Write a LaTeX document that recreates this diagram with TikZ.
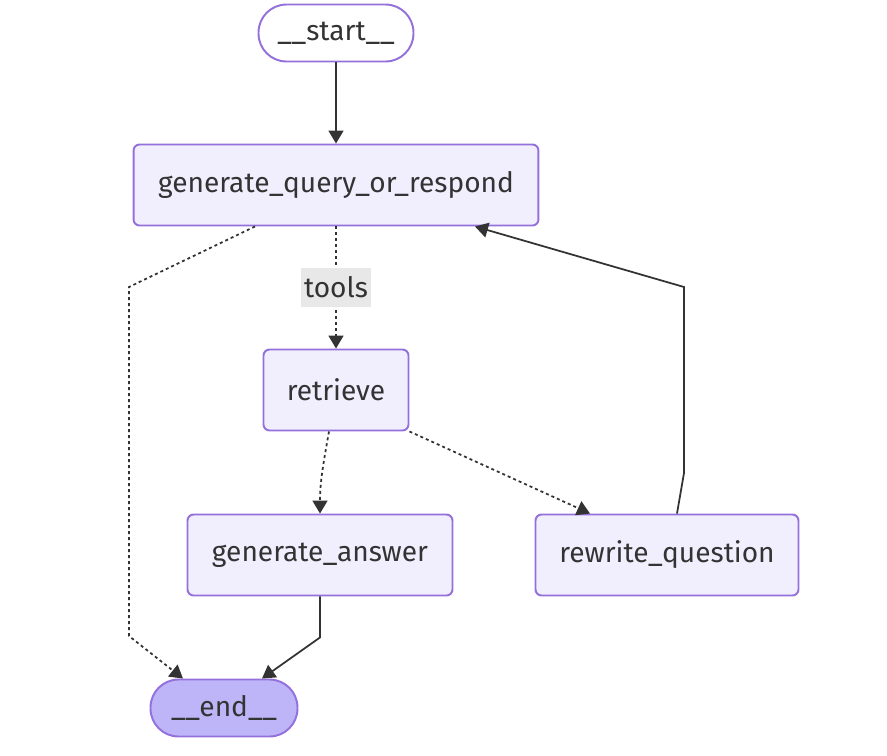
\documentclass[tikz,border=0pt]{standalone}
\usepackage{fontspec}
\setmainfont{Fira Sans}
\usetikzlibrary{arrows.meta}
\definecolor{lilac}{HTML}{9370DB}
\definecolor{paleviolet}{HTML}{F1EFFE}
\definecolor{endviolet}{HTML}{BDB5F8}
\definecolor{ink}{HTML}{333333}
\definecolor{tagbg}{HTML}{E8E8E8}
\tikzset{
  box/.style={draw=lilac,fill=paleviolet,line width=1.1pt,rounded corners=3.4pt,
    minimum height=1.62cm,inner sep=0pt,text=ink,font=\fontsize{16}{19}\selectfont},
  pill/.style={box,rounded corners=0.56cm,minimum height=1.14cm},
  flow/.style={ink,line width=1pt,-{Triangle[length=0.26cm,width=0.3cm]}},
  maybe/.style={flow,dash pattern=on 0.06cm off 0.06cm},
  tag/.style={fill=tagbg,inner xsep=1.5pt,inner ysep=5pt,text=ink,font=\fontsize{16}{19}\selectfont}
}
\begin{document}
\begin{tikzpicture}[x=0.02cm,y=-0.02cm]
\useasboundingbox (0,0) rectangle (887,755);
\node[pill,fill=white,minimum width=3.1cm] (start) at (336,33) {\_\_start\_\_};
\node[box,minimum width=8.1cm] (gqr) at (336,185) {generate\_query\_or\_respond};
\node[box,minimum width=2.9cm] (retrieve) at (336,390) {retrieve};
\node[box,minimum width=5.3cm] (answer) at (320,555) {generate\_answer};
\node[box,minimum width=5.26cm] (rewrite) at (667,555) {rewrite\_question};
\node[pill,fill=endviolet,minimum width=2.94cm] (end) at (224,708) {\_\_end\_\_};
% edges
\draw[flow] (start.south) -- (start.south |- gqr.north);
\draw[maybe] ([xshift=-1.62cm]gqr.south) -- (129,287) -- (129,636) -- ([xshift=-0.82cm]end.north);
\draw[maybe] (gqr) -- node[tag] {tools} (retrieve);
\draw[maybe] ([xshift=-0.14cm]retrieve.south) to[out=-100,in=90] (answer.north);
\draw[maybe] (retrieve.south east) -- ([xshift=-1.54cm]rewrite.north);
\draw[flow] (answer.south) -- ++(0,41) -- ([xshift=0.76cm]end.north);
\draw[flow] ([xshift=0.2cm]rewrite.north) -- (684,473) -- (684,287) -- ([xshift=2.78cm]gqr.south);
\end{tikzpicture}
\end{document}
